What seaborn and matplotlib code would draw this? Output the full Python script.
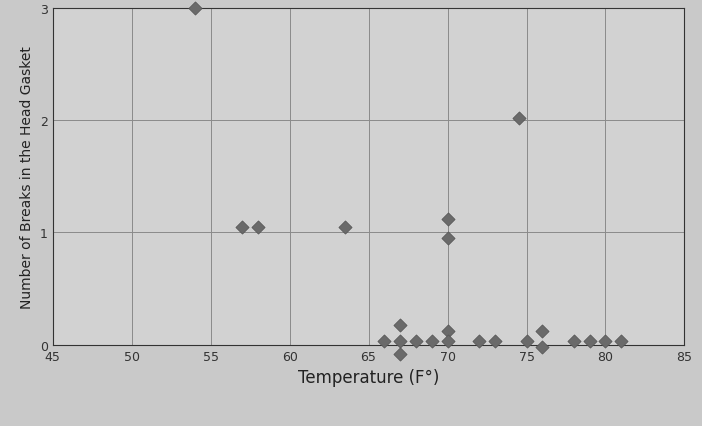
import matplotlib
matplotlib.use("Agg")
import matplotlib.pyplot as plt
import seaborn as sns
import pandas as pd

temperature = [54, 57, 58, 63.5, 70, 70, 74.5,
               66, 67, 67, 67, 68, 69, 70, 70, 72, 73, 75, 76, 76, 78, 79, 80, 81]
breaks = [3, 1.05, 1.05, 1.05, 1.12, 0.95, 2.02,
          0.03, 0.18, 0.03, -0.08, 0.03, 0.03, 0.12, 0.03, 0.03, 0.03, 0.03, 0.12, -0.02, 0.03, 0.03, 0.03, 0.03]
df = pd.DataFrame({"Temperature": temperature, "Breaks": breaks})

sns.set_style("white")
fig, ax = plt.subplots(figsize=(7.02, 4.27), dpi=100)
fig.patch.set_facecolor("#c9c9c9")
ax.set_facecolor("#d2d2d2")
sns.scatterplot(data=df, x="Temperature", y="Breaks", marker="D", s=45,
                color="#6a6a6a", edgecolor="#555555", ax=ax, zorder=3, clip_on=False)
ax.set_xlim(45, 85)
ax.set_ylim(0, 3)
ax.set_xticks(range(45, 86, 5))
ax.set_yticks([0, 1, 2, 3])
ax.grid(True, color="#8a8a8a", linewidth=0.7)
for s in ax.spines.values():
    s.set_color("#333333")
ax.tick_params(labelsize=9, colors="#333333", length=0)
ax.set_xlabel("Temperature (F°)", fontsize=12, color="#222222")
ax.set_ylabel("Number of Breaks in the Head Gasket", fontsize=10, color="#222222")
fig.subplots_adjust(left=0.075, right=0.975, top=0.98, bottom=0.19)
fig.savefig("out.png", dpi=100)
